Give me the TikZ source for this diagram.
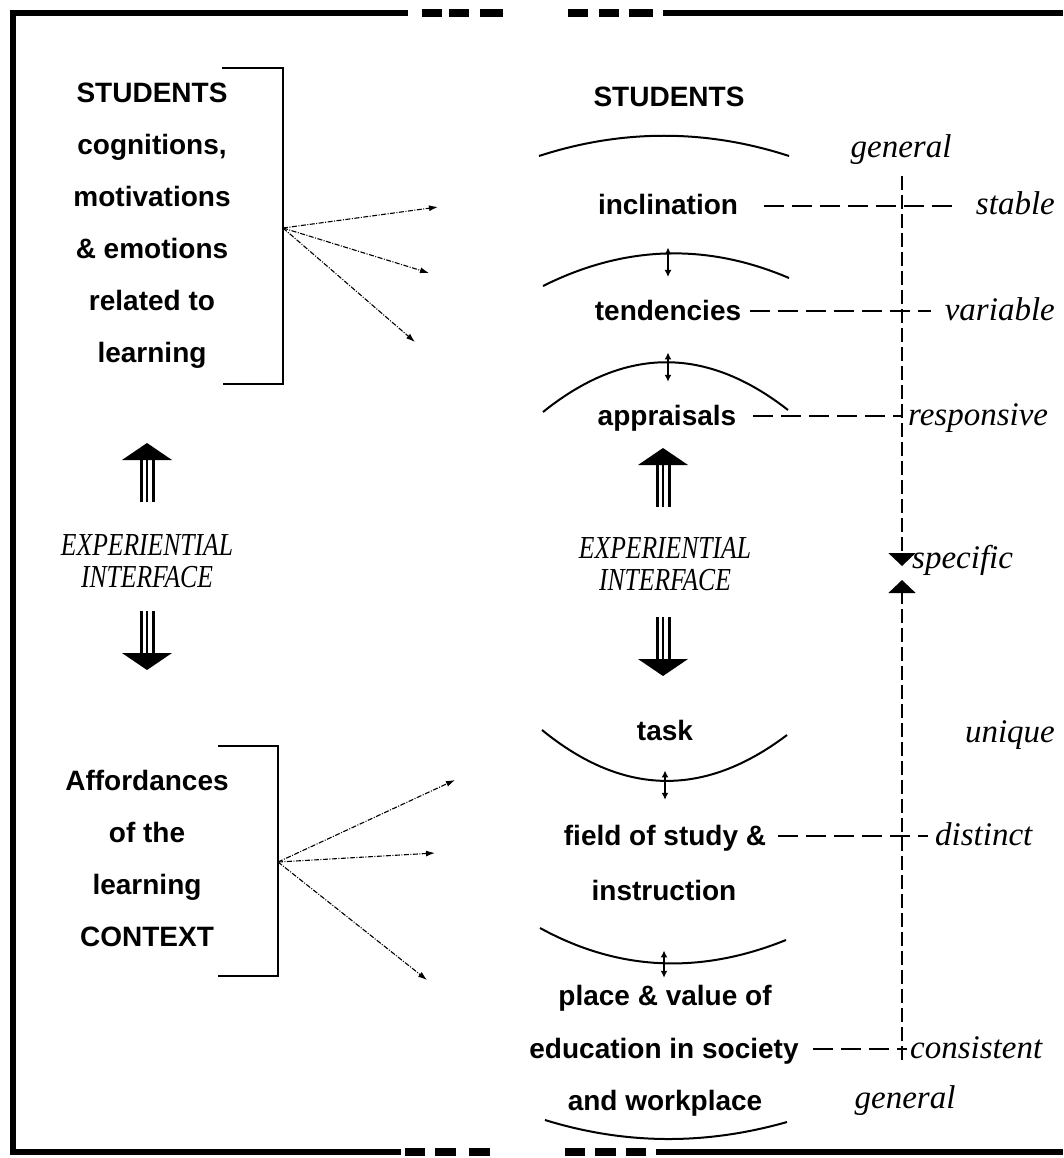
\documentclass[tikz,border=0pt]{standalone}
\usepackage{fontspec}
\usepackage{graphicx}
\setmainfont{Liberation Serif}
\newfontfamily\headsans{Liberation Sans}
\usetikzlibrary{arrows.meta,calc}

\tikzset{
  frame/.style={line width=6pt},
  block/.style={font=\headsans\bfseries\fontsize{28}{52}\selectfont, align=center, inner sep=0pt},
  level/.style={font=\headsans\bfseries\fontsize{28}{34}\selectfont, inner sep=0pt},
  quality/.style={font=\itshape\fontsize{33}{36}\selectfont, inner sep=0pt},
  interface/.style={font=\itshape\fontsize{32}{32}\selectfont, align=center, inner sep=0pt},
  bracket/.style={line width=1.3pt},
  fan/.style={line width=1.1pt, dash pattern=on 5pt off 1.5pt on 1pt off 1.5pt,
              -{Latex[length=9pt,width=6pt]}},
  layer/.style={line width=2pt},
  updown/.style={line width=1.6pt, {Latex[length=7pt,width=7pt]}-{Latex[length=7pt,width=7pt]}},
  hdash/.style={line width=1.4pt, dash pattern=on 20pt off 8pt},
  vdash/.style={line width=1.4pt, dash pattern=on 14pt off 5pt},
  meet/.style={-{Triangle[width=27pt,length=13pt]}},
  fatarrow/.pic={
    \fill (0,0) -- (-25,17) -- (25,17) -- cycle;
    \foreach \sx/\w in {-6/3,0/2,6/3}
      \draw[line width=\w pt] (\sx,17) -- (\sx,59);
  }
}

\begin{document}
\begin{tikzpicture}[x=1pt,y=-1pt]
\useasboundingbox (0,0) rectangle (1063,1158);

% ---- frame: left, top and bottom rules with square breaks ----
\draw[frame] (13,10) -- (13,1155);
\draw[frame] (10,13) -- (408,13);
\draw[frame] (663,13) -- (1063,13);
\foreach \a/\b in {422/442,449/469,480/503,568/588,599/619,629/653}
  \fill (\a,9) rectangle (\b,17);
\draw[frame] (10,1152) -- (401,1152);
\draw[frame] (656,1152) -- (1063,1152);
\foreach \a/\b in {405/425,435/456,469/490,565/585,595/616,626/646}
  \fill (\a,1148) rectangle (\b,1156);

% ---- left column ----
\node[block, anchor=north] (learner) at (152,83)
  {STUDENTS\\cognitions,\\motivations\\\& emotions\\related to\\learning};
\draw[bracket] (222,68) -- (283,68) -- (283,384) -- (223,384);
\coordinate (hubS) at (283,228);
\coordinate (tipS1) at (438,207);
\coordinate (tipS2) at (429,273);
\coordinate (tipS3) at (415,342);
\draw[fan] (hubS) -- (tipS1);
\draw[fan] (hubS) -- (tipS2);
\draw[fan] (hubS) -- (tipS3);

\pic at (147,443) {fatarrow};
\node[interface] (ifaceL) at (147,561)
  {\scalebox{0.8}[1]{EXPERIENTIAL}\\\scalebox{0.8}[1]{INTERFACE}};
\pic[rotate=180] at (147,670) {fatarrow};

\node[block, anchor=north] (context) at (147,770)
  {Affordances\\of the\\learning\\CONTEXT};
\draw[bracket] (218,746) -- (278,746) -- (278,976) -- (218,976);
\coordinate (hubC) at (278,862);
\coordinate (tipC1) at (455,780);
\coordinate (tipC2) at (435,853);
\coordinate (tipC3) at (427,980);
\draw[fan] (hubC) -- (tipC1);
\draw[fan] (hubC) -- (tipC2);
\draw[fan] (hubC) -- (tipC3);

% ---- right column: layers ----
\node[level, anchor=base] (rstud) at (669,107) {STUDENTS};
\node[level, anchor=base] (incl)  at (668,215) {inclination};
\node[level, anchor=base] (tend)  at (668,320) {tendencies};
\node[level, anchor=base] (appr)  at (667,425) {appraisals};
\node[level, anchor=base] (task)  at (665,740) {task};
\node[level, anchor=base] (field) at (665,845) {field of study \&};
\node[level, anchor=base] (instr) at (664,900) {instruction};
\node[level, anchor=base] (place) at (665,1005) {place \& value of};
\node[level, anchor=base] (educ)  at (664,1058) {education in society};
\node[level, anchor=base] (work)  at (665,1110) {and workplace};

\draw[layer] (539,156) .. controls (622,129) and (706,129) .. (789,156);
\draw[layer] (543,286) .. controls (625,245) and (707,243) .. (789,278);
\draw[layer] (543,412) .. controls (625,346) and (706,346) .. (788,410);
\draw[layer] (542,730) .. controls (624,797) and (705,797) .. (787,735);
\draw[layer] (540,928) .. controls (622,973) and (704,973) .. (786,940);
\draw[layer] (545,1120) .. controls (626,1145) and (706,1145) .. (787,1122);

\draw[updown, shorten <=32pt, shorten >=33pt] (incl) -- (incl |- tend);
\draw[updown, shorten <=32pt, shorten >=36pt] (tend) -- (tend |- appr);
\draw[updown, shorten <=30pt, shorten >=38pt] (task) -- (task |- field);
\draw[updown, shorten <=50pt, shorten >=20pt] (instr) -- (instr |- place);

\pic at (663,448) {fatarrow};
\node[interface] (ifaceR) at (665,564)
  {\scalebox{0.8}[1]{EXPERIENTIAL}\\\scalebox{0.8}[1]{INTERFACE}};
\pic[rotate=180] at (663,676) {fatarrow};

% ---- right margin: qualities of each layer ----
\node[quality, anchor=base] (gentop) at (901,158) {general};
\node[quality, anchor=base east] (stable) at (1055,215) {stable};
\node[quality, anchor=base east] (variable) at (1055,320) {variable};
\node[quality, anchor=base west] (responsive) at (908,425) {responsive};
\node[quality, anchor=base west] (specific) at (912,568) {specific};
\node[quality, anchor=base east] (unique) at (1055,742) {unique};
\node[quality, anchor=base west] (distinct) at (935,845) {distinct};
\node[quality, anchor=base west] (consistent) at (910,1058) {consistent};
\node[quality, anchor=base] (genbot) at (905,1108) {general};

\draw[hdash] ($(incl.base east)+(26,-9)$) -- ($(stable.base west)+(-20,-9)$);
\draw[hdash] ($(tend.base east)+(9,-9)$) -- ($(variable.base west)+(-14,-9)$);
\draw[hdash] ($(appr.base east)+(17,-9)$) -- ($(responsive.base west)+(-5,-9)$);
\draw[hdash] ($(field.base east)+(12,-9)$) -- ($(distinct.base west)+(-7,-9)$);
\draw[hdash] ($(educ.base east)+(14,-9)$) -- ($(consistent.base west)+(-3,-9)$);

% ---- general-to-specific axis ----
\coordinate (vtop) at (902,176);
\coordinate (vbot) at (902,1060);
\coordinate (meetA) at (902,566);
\coordinate (meetB) at (902,580);
\draw[vdash, meet] (vtop) -- (meetA);
\draw[vdash, meet] (vbot) -- (meetB);
\end{tikzpicture}
\end{document}
